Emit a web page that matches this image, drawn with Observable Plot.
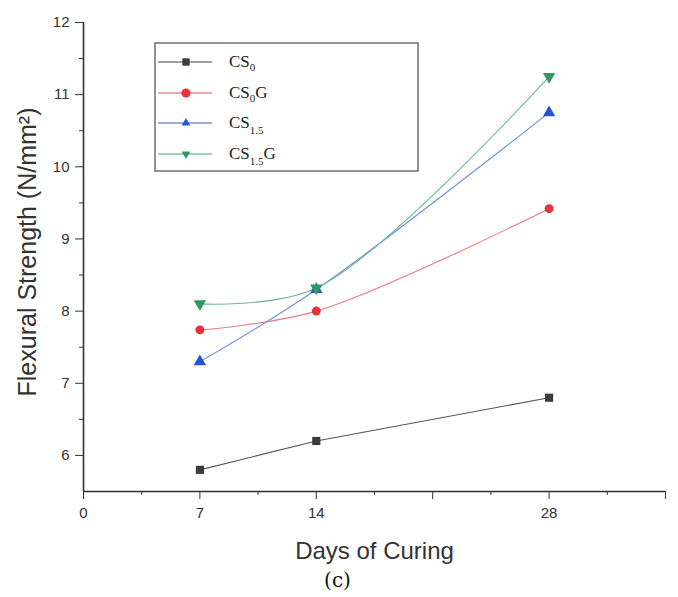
<!DOCTYPE html>
<html>
<head>
<meta charset="utf-8">
<script src="https://cdn.jsdelivr.net/npm/d3@7"></script>
<script src="https://cdn.jsdelivr.net/npm/@observablehq/plot@0.6"></script>
<style>
  html, body { margin: 0; padding: 0; background: #fff; }
  #chart { position: relative; width: 678px; height: 597px; }
</style>
</head>
<body>
<div id="chart"></div>
<script>
// ---- data ----
const days = [7, 14, 28];
const cs0 = [5.8, 6.2, 6.8];
const cs0g = [7.74, 8.0, 9.42];
const cs15 = [7.3, 8.3, 10.75];
const cs15g = [8.1, 8.32, 11.25];
const seriesKeys = ["CS0", "CS0G", "CS1.5", "CS1.5G"];
const seriesValues = [cs0, cs0g, cs15, cs15g];
const legendBase = ["CS", "CS", "CS", "CS"];
const legendSub = ["0", "0", "1.5", "1.5"];
const legendSuffix = ["", "G", "", "G"];
const xMajorTicks = [0, 7, 14, 21, 28, 35];
const xLabeledTicks = [0, 7, 14, 28];
const xMinorTicks = [3.5, 10.5, 17.5, 24.5, 31.5];
const yMajorTicks = [6, 7, 8, 9, 10, 11, 12];
const yMinorTicks = [6.5, 7.5, 8.5, 9.5, 10.5, 11.5];
const xTitle = "Days of Curing";
const yTitle = "Flexural Strength (N/mm²)";
const caption = "(c)";

// ---- styles ----
const markerColor = {"CS0": "#3b3b3b", "CS0G": "#e8323c", "CS1.5": "#2454d4", "CS1.5G": "#2e9a60"};
const lineColor = {"CS0": "#555555", "CS0G": "#eb7a80", "CS1.5": "#6f8fdc", "CS1.5G": "#6ab596"};
const legendLineColor = {"CS0": "#444444", "CS0G": "#e4505a", "CS1.5": "#3d5cb0", "CS1.5G": "#4aa070"};
const symbolOf = {"CS0": "square", "CS0G": "circle", "CS1.5": "triangle", "CS1.5G": "triangle"};
const rotateOf = {"CS0": 0, "CS0G": 0, "CS1.5": 0, "CS1.5G": 180};
const curveOf = {"CS0": "linear", "CS0G": "catmull-rom", "CS1.5": "catmull-rom", "CS1.5G": "catmull-rom"};

const rows = [];
seriesKeys.forEach((k, i) => days.forEach((d, j) => rows.push({series: k, day: d, value: seriesValues[i][j]})));

const sans = "'Liberation Sans', Arial, sans-serif";
const axisColor = "#333";

const marks = [];
// axis lines
marks.push(Plot.ruleY([5.5], {stroke: axisColor, strokeWidth: 1.6}));
marks.push(Plot.ruleX([0], {stroke: axisColor, strokeWidth: 1.6}));
// x axis
marks.push(Plot.axisX(xMajorTicks, {label: null, tickSize: 8, tickPadding: 8, stroke: axisColor, fontSize: 15, fill: axisColor,
  tickFormat: d => xLabeledTicks.includes(d) ? String(d) : ""}));
marks.push(Plot.axisX(xMinorTicks, {label: null, tickSize: 4, tickFormat: () => "", stroke: axisColor}));
// y axis
marks.push(Plot.axisY(yMajorTicks, {label: null, tickSize: 8, tickPadding: 6, stroke: axisColor, fontSize: 15, fill: axisColor,
  tickFormat: d => String(d)}));
marks.push(Plot.axisY(yMinorTicks, {label: null, tickSize: 4, tickFormat: () => "", stroke: axisColor}));
// lines
seriesKeys.forEach(k => {
  marks.push(Plot.line(rows.filter(r => r.series === k), {x: "day", y: "value", stroke: lineColor[k], strokeWidth: 1.1, curve: curveOf[k]}));
});
// markers
seriesKeys.forEach(k => {
  marks.push(Plot.dot(rows.filter(r => r.series === k), {x: "day", y: "value", symbol: symbolOf[k], rotate: rotateOf[k],
    fill: markerColor[k], stroke: "none", r: k === "CS0G" ? 4.5 : 4.6}));
});
// titles
marks.push(Plot.text([xTitle], {frameAnchor: "bottom", textAnchor: "middle", lineAnchor: "middle", dy: 60, fontSize: 24, fill: axisColor, fontFamily: sans}));
marks.push(Plot.text([yTitle], {frameAnchor: "left", textAnchor: "middle", lineAnchor: "middle", dx: -56, dy: -5, rotate: -90, fontSize: 25, fill: axisColor, fontFamily: sans}));
marks.push(Plot.text([caption], {frameAnchor: "bottom", textAnchor: "middle", lineAnchor: "middle", dx: -37, dy: 89, fontSize: 20, fill: "#111", fontFamily: "'DejaVu Serif', 'Liberation Serif', serif"}));

const plot = Plot.plot({
  width: 678,
  height: 597,
  marginLeft: 83,
  marginRight: 13,
  marginTop: 22,
  marginBottom: 106,
  style: {fontFamily: sans, fontSize: "15px", color: axisColor, background: "#fff"},
  x: {domain: [0, 35], axis: null},
  y: {domain: [5.5, 12], axis: null},
  marks
});
document.getElementById("chart").appendChild(plot);

// ---- legend (box with subscripted labels) ----
const svg = d3.select(plot);
const lg = svg.append("g").attr("class", "legend");
const box = {x: 155, y: 43, w: 263, h: 128};
lg.append("rect").attr("x", box.x).attr("y", box.y).attr("width", box.w).attr("height", box.h)
  .attr("fill", "none").attr("stroke", "#777").attr("stroke-width", 1.6);
const rowY = [62, 93, 123, 154];
const symGen = {square: d3.symbolSquare, circle: d3.symbolCircle, triangle: d3.symbolTriangle};
seriesKeys.forEach((k, i) => {
  const y = rowY[i];
  lg.append("line").attr("x1", 158).attr("x2", 212).attr("y1", y).attr("y2", y)
    .attr("stroke", legendLineColor[k]).attr("stroke-width", 1.1);
  const s = symGen[symbolOf[k]];
  const r = 4.6;
  const area = s === d3.symbolSquare ? (r * 1.6) ** 2 : s === d3.symbolCircle ? Math.PI * r * r : r * r * 1.6;
  lg.append("path").attr("d", d3.symbol(s, area)())
    .attr("transform", `translate(186,${y}) rotate(${rotateOf[k]})`).attr("fill", markerColor[k]);
  const t = lg.append("text").attr("x", 229).attr("y", y + 5).attr("text-anchor", "start")
    .attr("font-family", "'Liberation Serif', 'Times New Roman', serif").attr("font-size", 17).attr("fill", "#222");
  t.append("tspan").text(legendBase[i]);
  t.append("tspan").attr("dy", legendSub[i] === "0" ? 4 : 6).attr("font-size", 11).text(legendSub[i]);
  if (legendSuffix[i]) t.append("tspan").attr("dy", legendSub[i] === "0" ? -4 : -6).text(legendSuffix[i]);
});
</script>
</body>
</html>
